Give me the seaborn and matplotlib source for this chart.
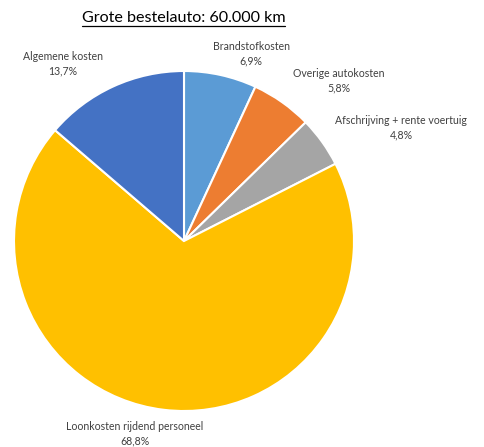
import matplotlib
matplotlib.use("Agg")
import matplotlib.pyplot as plt
import seaborn as sns
from matplotlib.lines import Line2D

# Cost breakdown for a large delivery van at 60,000 km per year
categories = [
    "Brandstofkosten",
    "Overige autokosten",
    "Afschrijving + rente voertuig",
    "Loonkosten rijdend personeel",
    "Algemene kosten",
]
shares = [6.9, 5.8, 4.8, 68.8, 13.7]
pct_labels = ["6,9%", "5,8%", "4,8%", "68,8%", "13,7%"]
colors = ["#5B9BD5", "#ED7D31", "#A5A5A5", "#FFC000", "#4472C4"]
title = "Grote bestelauto: 60.000 km"

sns.set_theme(style="white")
plt.rcParams["font.family"] = ["Lato", "DejaVu Sans"]

W, H = 484, 447
fig = plt.figure(figsize=(W / 100, H / 100), dpi=100)
fig.patch.set_facecolor("white")

# pie placement in pixels: centre and radius
cx, cy, r = 184, 241, 170
ax = fig.add_axes([(cx - r) / W, (H - cy - r) / H, 2 * r / W, 2 * r / H])
ax.pie(
    shares,
    colors=colors,
    startangle=90,
    counterclock=False,
    wedgeprops=dict(edgecolor="white", linewidth=1.5),
)
ax.set_xlim(-1, 1)
ax.set_ylim(-1, 1)
ax.set_aspect("equal")
ax.axis("off")

# label anchors (pixel centres of the two-line label blocks)
label_pos = [(251, 54), (339, 81), (401, 128), (135, 434), (63, 64)]
for name, pct, (px, py) in zip(categories, pct_labels, label_pos):
    fig.text(px / W, 1 - py / H, f"{name}\n{pct}", ha="center", va="center",
             fontsize=7.6, color="#404040", linespacing=1.4)

# underlined title
t = fig.text(183.5 / W, 1 - 18 / H, title, ha="center", va="center",
             fontsize=11.6, color="#000000")
fig.canvas.draw()
bb = t.get_window_extent(fig.canvas.get_renderer())
y_line = (bb.y0 - 1) / H
fig.add_artist(Line2D([bb.x0 / W, bb.x1 / W], [y_line, y_line],
                      transform=fig.transFigure, color="#000000", linewidth=0.9))

fig.savefig("out.png", dpi=100, facecolor="white")
